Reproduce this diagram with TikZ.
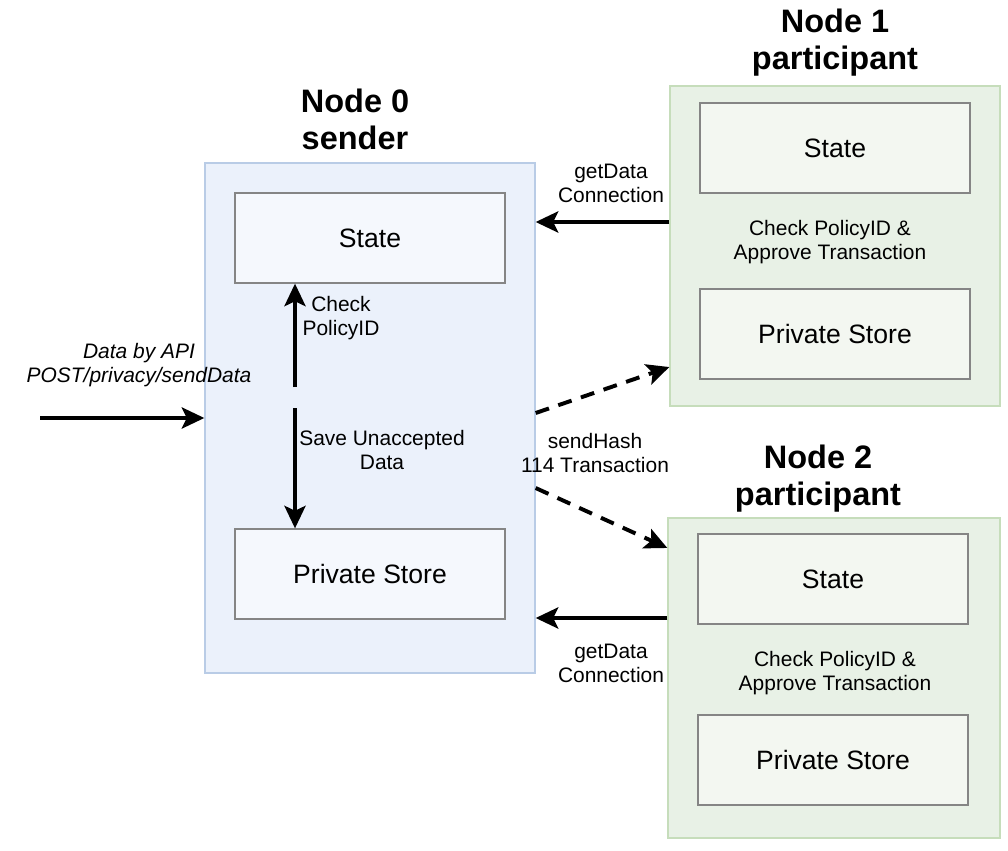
\documentclass[tikz,border=0pt]{standalone}
\usepackage{fontspec}
\setmainfont{Liberation Sans}
\usepackage{tikz}
\usetikzlibrary{arrows.meta}
\definecolor{sender-fill}{HTML}{EBF1FB}
\definecolor{sender-line}{HTML}{B9CCE6}
\definecolor{sender-inner}{HTML}{F5F8FD}
\definecolor{part-fill}{HTML}{E8F1E6}
\definecolor{part-line}{HTML}{C6DDBB}
\definecolor{part-inner}{HTML}{F3F7F1}
\definecolor{box-line}{HTML}{858585}

\begin{document}
\begin{tikzpicture}[x=0.025cm, y=-0.025cm,
		container/.style={draw, line width=0.9pt, minimum width=8.25cm, minimum height=8cm, inner sep=0pt},
		store/.style={draw=box-line, line width=0.9pt, minimum width=6.75cm, minimum height=2.25cm, font=\fontsize{18.9}{22}\selectfont},
		title/.style={align=center, font=\fontsize{23.1}{26.2}\selectfont\bfseries},
		lbl/.style={align=center, font=\fontsize{14.9}{17}\selectfont},
		flow/.style={line width=2.8pt, -{Stealth[length=16pt, width=15pt, inset=3.5pt]}},
		hash/.style={flow, dash pattern=on 10pt off 7pt}]
		\useasboundingbox (0,0) rectangle (1008,850);
		
		% Draw the sender node
		\node (node0box) [container, fill=sender-fill, draw=sender-line, minimum height=12.75cm] at (370,418) {};
		\node (state0) [store, fill=sender-inner] at (370,238) {State};
		\node (store0) [store, fill=sender-inner] at (370,574) {Private Store};
		\node (title0) [title] at (355,119) {Node 0\\sender};
		
		% Draw the first participant
		\node (node1box) [container, fill=part-fill, draw=part-line] at (835,246) {};
		\node (state1) [store, fill=part-inner] at (835,148) {State};
		\node (store1) [store, fill=part-inner] at (835,334) {Private Store};
		\node (check1) [lbl] at (830,242) {Check PolicyID \&\\Approve Transaction};
		\node (title1) [title] at (835,43) {Node 1\\participant};
		
		% Draw the second participant
		\node (node2box) [container, fill=part-fill, draw=part-line, minimum width=8.3cm] at (834,678) {};
		\node (state2) [store, fill=part-inner] at (833,579) {State};
		\node (store2) [store, fill=part-inner] at (833,760) {Private Store};
		\node (check2) [lbl] at (835,673) {Check PolicyID \&\\Approve Transaction};
		\node (title2) [title] at (818,479) {Node 2\\participant};
		
		% Draw the input
		\coordinate (api) at (40,418);
		\node (apilbl) [lbl, font=\fontsize{14.9}{17}\selectfont\itshape] at (139,365) {Data by API\\POST/privacy/sendData};
		\draw[flow] (api) -- (node0box.west);
		
		% Connect state and store inside the sender
		\coordinate (checkstart) at (295,387);
		\coordinate (savestart) at (295,408);
		\draw[flow] (checkstart) -- (checkstart |- state0.south);
		\draw[flow] (savestart) -- (savestart |- store0.north);
		\node (checklbl) [lbl] at (341,318) {Check\\PolicyID};
		\node (savelbl) [lbl] at (382,450) {Save Unaccepted\\Data};
		
		% Draw the arrows between the nodes
		\coordinate (get1) at (600,222);
		\coordinate (get2) at (600,618);
		\draw[flow] (node1box.west |- get1) -- (node0box.east |- get1);
		\draw[flow] (node2box.west |- get2) -- (node0box.east |- get2);
		\node (get1lbl) [lbl] at (611,183) {getData\\Connection};
		\node (get2lbl) [lbl] at (611,663) {getData\\Connection};
		
		\draw[hash] ([yshift=0.125cm]node0box.east) -- ([yshift=-3.025cm]node1box.west);
		\draw[hash] ([yshift=-1.75cm]node0box.east) -- ([yshift=3.25cm]node2box.west);
		\node (hashlbl) [lbl] at (595,453) {sendHash\\114 Transaction};
\end{tikzpicture}
\end{document}
